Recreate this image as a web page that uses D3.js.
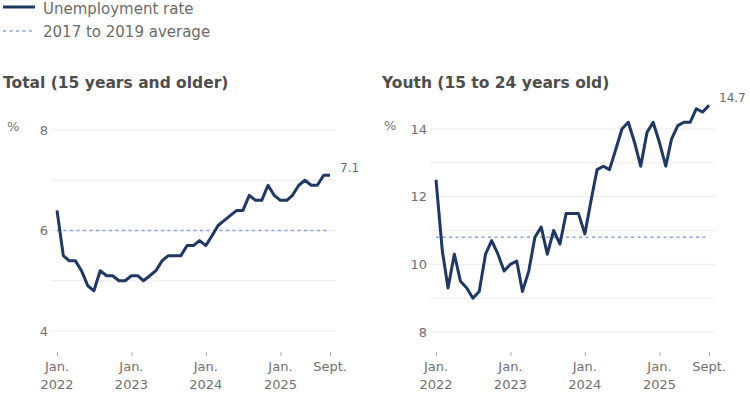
<!DOCTYPE html>
<html>
<head>
<meta charset="utf-8">
<script src="https://cdn.jsdelivr.net/npm/d3@7/dist/d3.min.js"></script>
<style>
    body { margin: 0; background: #fff; }
    svg { font-family: "DejaVu Sans", Verdana, sans-serif; }
    .grid line { stroke: #ececec; stroke-width: 1; }
    .tick-label { fill: #707070; font-size: 13px; }
    .title { fill: #4d4d4d; font-size: 15.5px; font-weight: bold; }
    .legend-text { fill: #6b6b6b; font-size: 15px; }
    .rate-line { fill: none; stroke: #1f3863; stroke-width: 3; stroke-linejoin: round; }
    .avg-line { stroke: #86a2d8; stroke-width: 1.7; stroke-dasharray: 3 3.5; }
    .end-label { fill: #6b6b6b; font-size: 12px; }
</style>
</head>
<body>
<div id="graph"></div>
<script>
/*
    Unemployment rate, Jan. 2022 to Sept. 2025, monthly
*/
var totalRate = [
    6.4, 5.5, 5.4, 5.4, 5.2, 4.9, 4.8, 5.2, 5.1, 5.1, 5.0, 5.0,
    5.1, 5.1, 5.0, 5.1, 5.2, 5.4, 5.5, 5.5, 5.5, 5.7, 5.7, 5.8,
    5.7, 5.9, 6.1, 6.2, 6.3, 6.4, 6.4, 6.7, 6.6, 6.6, 6.9, 6.7,
    6.6, 6.6, 6.7, 6.9, 7.0, 6.9, 6.9, 7.1, 7.1
]

var youthRate = [
    12.5, 10.4, 9.3, 10.3, 9.5, 9.3, 9.0, 9.2, 10.3, 10.7, 10.3, 9.8,
    10.0, 10.1, 9.2, 9.8, 10.8, 11.1, 10.3, 11.0, 10.6, 11.5, 11.5, 11.5,
    10.9, 11.9, 12.8, 12.9, 12.8, 13.4, 14.0, 14.2, 13.6, 12.9, 13.9, 14.2,
    13.6, 12.9, 13.7, 14.1, 14.2, 14.2, 14.6, 14.5, 14.7
]

// 2017 to 2019 average
var totalAverage = 6.0
var youthAverage = 10.8

var months = totalRate.map(function (d, i) { return new Date(2022, i, 1) })

var totalGrid = [4, 5, 6, 7, 8],
    totalLabels = [4, 6, 8],
    youthGrid = [8, 9, 10, 11, 12, 13, 14],
    youthLabels = [8, 10, 12, 14]

var xTicks = [new Date(2022, 0, 1), new Date(2023, 0, 1), new Date(2024, 0, 1),
              new Date(2025, 0, 1), new Date(2025, 8, 1)]
var xTickLabels = [["Jan.", "2022"], ["Jan.", "2023"], ["Jan.", "2024"],
                   ["Jan.", "2025"], ["Sept.", ""]]

var legendItems = ["Unemployment rate", "2017 to 2019 average"]

var svg = d3.select("#graph").append("svg")
    .attr("width", 750)
    .attr("height", 398)

/*
    Legend
*/
var legend = svg.append("g")
legend.append("line")
    .attr("class", "rate-line")
    .attr("x1", 3).attr("x2", 35)
    .attr("y1", 7).attr("y2", 7)
legend.append("line")
    .attr("class", "avg-line")
    .attr("x1", 3).attr("x2", 35)
    .attr("y1", 31).attr("y2", 31)
legend.selectAll("text")
    .data(legendItems)
    .enter().append("text")
    .attr("class", "legend-text")
    .attr("x", 43)
    .attr("y", function (d, i) { return 8.5 + i * 23.5 })
    .attr("dy", "0.35em")
    .text(function (d) { return d })

function drawPanel(opt) {
    /*
    One small multiple: title, grid, average line, rate line
    */
    var g = svg.append("g")
        .attr("transform", "translate(" + opt.left + ",0)")

    var x = d3.scaleTime()
        .domain(d3.extent(months))
        .range([57, 330])

    var y = d3.scaleLinear()
        .domain(opt.domain)
        .range(opt.range)

    g.append("text")
        .attr("class", "title")
        .attr("x", opt.titleX)
        .attr("y", 88)
        .text(opt.title)

    // grid
    g.append("g")
        .attr("class", "grid")
        .selectAll("line")
        .data(opt.grid)
        .enter().append("line")
        .attr("x1", x.range()[0] - 6)
        .attr("x2", x.range()[1] + 6)
        .attr("y1", function (d) { return y(d) })
        .attr("y2", function (d) { return y(d) })

    g.selectAll(".ylab")
        .data(opt.labels)
        .enter().append("text")
        .attr("class", "tick-label ylab")
        .attr("x", x.range()[0] - 9)
        .attr("y", function (d) { return y(d) })
        .attr("dy", "0.35em")
        .style("text-anchor", "end")
        .text(function (d) { return d })

    g.append("text")
        .attr("class", "tick-label")
        .attr("x", opt.pctX)
        .attr("y", y(opt.domain[1]) - 4)
        .attr("dy", "0.35em")
        .text("%")

    // x axis
    var xAxis = g.append("g")
        .attr("transform", "translate(0,352)")
        .call(d3.axisBottom(x).tickValues(xTicks).tickSize(4).tickFormat(""))
    xAxis.select(".domain").remove()
    xAxis.selectAll(".tick line").attr("stroke", "#aaa")

    xTicks.forEach(function (t, i) {
        var lab = g.append("text")
            .attr("class", "tick-label")
            .attr("x", x(t))
            .attr("y", 371)
            .style("text-anchor", "middle")
        lab.append("tspan").attr("x", x(t)).text(xTickLabels[i][0])
        lab.append("tspan").attr("x", x(t)).attr("dy", 18).text(xTickLabels[i][1])
    })

    // average
    g.append("line")
        .attr("class", "avg-line")
        .attr("x1", x.range()[0])
        .attr("x2", x.range()[1])
        .attr("y1", y(opt.average))
        .attr("y2", y(opt.average))

    var line = d3.line()
        .x(function (d, i) { return x(months[i]) })
        .y(function (d) { return y(d) })

    g.append("path")
        .datum(opt.values)
        .attr("class", "rate-line")
        .attr("d", line)

    var last = opt.values.length - 1
    g.append("text")
        .attr("class", "end-label")
        .attr("x", x(months[last]) + 10)
        .attr("y", y(opt.values[last]) - 3)
        .text(d3.format(".1f")(opt.values[last]))
}

drawPanel({
    left: 0,
    title: "Total (15 years and older)",
    titleX: 3,
    pctX: 7,
    values: totalRate,
    average: totalAverage,
    grid: totalGrid,
    labels: totalLabels,
    domain: [4, 8],
    range: [331, 130]
})

drawPanel({
    left: 379,
    title: "Youth (15 to 24 years old)",
    titleX: 3,
    pctX: 5,
    values: youthRate,
    average: youthAverage,
    grid: youthGrid,
    labels: youthLabels,
    domain: [8, 14],
    range: [332, 129]
})
</script>
</body>
</html>
